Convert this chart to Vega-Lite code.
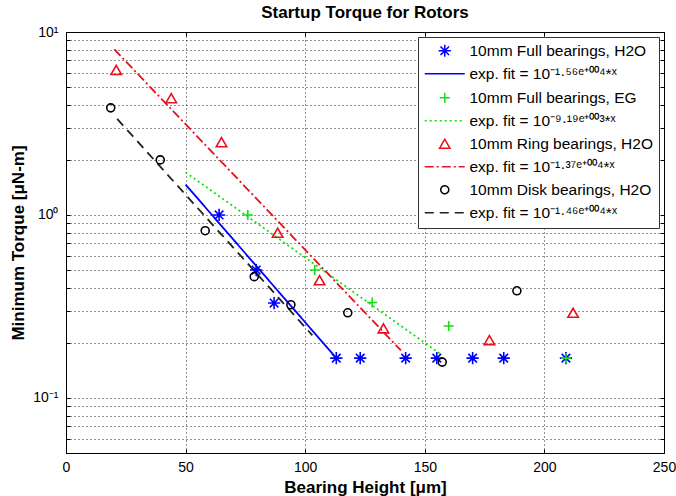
{
  "$schema": "https://vega.github.io/schema/vega-lite/v6.json",
  "autosize": "none",
  "width": 598,
  "height": 421,
  "padding": {"left": 66, "top": 32, "right": 12, "bottom": 43},
  "background": "white",
  "config": {
    "font": "Liberation Sans",
    "view": {"stroke": "black", "strokeWidth": 1},
    "axis": {
      "domainColor": "black",
      "tickColor": "black",
      "labelColor": "black",
      "titleColor": "black",
      "labelFont": "Liberation Sans",
      "titleFont": "Liberation Sans",
      "labelFontSize": 14,
      "titleFontSize": 17,
      "titleFontWeight": "bold",
      "gridColor": "black",
      "gridDash": [1, 3],
      "gridOpacity": 0.85,
      "gridWidth": 1
    }
  },
  "title": {
    "text": "Startup Torque for Rotors",
    "fontSize": 17,
    "fontWeight": "bold",
    "color": "black",
    "offset": 3,
    "anchor": "middle"
  },
  "datasets": {
    "points": [
      {"series": "10mm Full bearings, H2O", "x": 64, "y": 1.0},
      {"series": "10mm Full bearings, H2O", "x": 79.5, "y": 0.5},
      {"series": "10mm Full bearings, H2O", "x": 87, "y": 0.33},
      {"series": "10mm Full bearings, H2O", "x": 113, "y": 0.165},
      {"series": "10mm Full bearings, H2O", "x": 123, "y": 0.165},
      {"series": "10mm Full bearings, H2O", "x": 142, "y": 0.165},
      {"series": "10mm Full bearings, H2O", "x": 155, "y": 0.165},
      {"series": "10mm Full bearings, H2O", "x": 170, "y": 0.165},
      {"series": "10mm Full bearings, H2O", "x": 183, "y": 0.165},
      {"series": "10mm Full bearings, H2O", "x": 209, "y": 0.165},
      {"series": "10mm Full bearings, EG", "x": 76, "y": 1.0},
      {"series": "10mm Full bearings, EG", "x": 104, "y": 0.5},
      {"series": "10mm Full bearings, EG", "x": 128, "y": 0.332},
      {"series": "10mm Full bearings, EG", "x": 160, "y": 0.247},
      {"series": "10mm Full bearings, EG", "x": 209, "y": 0.165},
      {"series": "10mm Ring bearings, H2O", "x": 21, "y": 6.2},
      {"series": "10mm Ring bearings, H2O", "x": 44, "y": 4.35},
      {"series": "10mm Ring bearings, H2O", "x": 65, "y": 2.5},
      {"series": "10mm Ring bearings, H2O", "x": 88.5, "y": 0.8},
      {"series": "10mm Ring bearings, H2O", "x": 106, "y": 0.44},
      {"series": "10mm Ring bearings, H2O", "x": 132.7, "y": 0.24},
      {"series": "10mm Ring bearings, H2O", "x": 177, "y": 0.207},
      {"series": "10mm Ring bearings, H2O", "x": 212, "y": 0.292},
      {"series": "10mm Disk bearings, H2O", "x": 18.7, "y": 3.85},
      {"series": "10mm Disk bearings, H2O", "x": 39.4, "y": 2.0},
      {"series": "10mm Disk bearings, H2O", "x": 58.2, "y": 0.82},
      {"series": "10mm Disk bearings, H2O", "x": 78.7, "y": 0.46},
      {"series": "10mm Disk bearings, H2O", "x": 94, "y": 0.323},
      {"series": "10mm Disk bearings, H2O", "x": 117.8, "y": 0.292},
      {"series": "10mm Disk bearings, H2O", "x": 157.3, "y": 0.157},
      {"series": "10mm Disk bearings, H2O", "x": 188.5, "y": 0.385}
    ],
    "fits": [
      {"series": "exp. fit = 10⁻¹·⁵⁶ᵉ⁺⁰⁰⁴*ˣ", "x": 50, "y": 1.466},
      {"series": "exp. fit = 10⁻¹·⁵⁶ᵉ⁺⁰⁰⁴*ˣ", "x": 113, "y": 0.165},
      {"series": "exp. fit = 10⁻⁹·¹⁹ᵉ⁺⁰⁰³*ˣ", "x": 50, "y": 1.71},
      {"series": "exp. fit = 10⁻⁹·¹⁹ᵉ⁺⁰⁰³*ˣ", "x": 157, "y": 0.172},
      {"series": "exp. fit = 10⁻¹·³⁷ᵉ⁺⁰⁰⁴*ˣ", "x": 20.2, "y": 8.04},
      {"series": "exp. fit = 10⁻¹·³⁷ᵉ⁺⁰⁰⁴*ˣ", "x": 140, "y": 0.182},
      {"series": "exp. fit = 10⁻¹·⁴⁶ᵉ⁺⁰⁰⁴*ˣ", "x": 21.4, "y": 3.35},
      {"series": "exp. fit = 10⁻¹·⁴⁶ᵉ⁺⁰⁰⁴*ˣ", "x": 103, "y": 0.22}
    ]
  },
  "resolve": {"axis": {"x": "independent", "y": "independent"}},
  "layer": [
    {
      "data": {"name": "fits"},
      "mark": {"type": "line", "strokeWidth": 1.8},
      "encoding": {
        "x": {
          "field": "x", "type": "quantitative",
          "scale": {"domain": [0, 250], "nice": false, "zero": false},
          "axis": {
            "title": "Bearing Height [μm]",
            "values": [0, 50, 100, 150, 200, 250],
            "grid": true,
            "tickSize": -4,
            "labelPadding": 11,
            "titlePadding": 5,
            "labelFlush": false
          }
        },
        "y": {
          "field": "y", "type": "quantitative",
          "scale": {"type": "log", "domain": [0.05, 10], "nice": false},
          "axis": {
            "title": "Minimum Torque [μN-m]",
            "values": [0.06, 0.07, 0.08, 0.09, 0.1, 0.2, 0.3, 0.4, 0.5, 0.6, 0.7, 0.8, 0.9, 1, 2, 3, 4, 5, 6, 7, 8, 9, 10],
            "labelExpr": "datum.value == 10 ? '10¹' : datum.value == 1 ? '10⁰' : datum.value == 0.1 ? '10⁻¹' : ''",
            "grid": true,
            "tickSize": -4,
            "labelPadding": 12,
            "titlePadding": 5,
            "labelFlush": false
          }
        },
        "color": {
          "field": "series", "type": "nominal",
          "scale": {
            "domain": [
              "10mm Full bearings, H2O", "exp. fit = 10⁻¹·⁵⁶ᵉ⁺⁰⁰⁴*ˣ",
              "10mm Full bearings, EG", "exp. fit = 10⁻⁹·¹⁹ᵉ⁺⁰⁰³*ˣ",
              "10mm Ring bearings, H2O", "exp. fit = 10⁻¹·³⁷ᵉ⁺⁰⁰⁴*ˣ",
              "10mm Disk bearings, H2O", "exp. fit = 10⁻¹·⁴⁶ᵉ⁺⁰⁰⁴*ˣ"
            ],
            "range": ["#0000ff", "#0000ff", "#11e011", "#11e011", "#e8101a", "#e8101a", "#000000", "#222222"]
          },
          "legend": {
            "title": null,
            "orient": "top-right",
            "offset": 5,
            "padding": 6,
            "strokeColor": "#333333",
            "fillColor": "white",
            "labelFont": "Liberation Sans",
            "labelFontSize": 15.5,
            "labelColor": "black",
            "labelLimit": 300,
            "labelOffset": 17,
            "symbolOffset": 13,
            "rowPadding": 6,
            "symbolStrokeWidth": 1.5,
            "symbolFillColor": "transparent"
          }
        },
        "strokeDash": {
          "field": "series", "type": "nominal",
          "scale": {
            "domain": [
              "10mm Full bearings, H2O", "exp. fit = 10⁻¹·⁵⁶ᵉ⁺⁰⁰⁴*ˣ",
              "10mm Full bearings, EG", "exp. fit = 10⁻⁹·¹⁹ᵉ⁺⁰⁰³*ˣ",
              "10mm Ring bearings, H2O", "exp. fit = 10⁻¹·³⁷ᵉ⁺⁰⁰⁴*ˣ",
              "10mm Disk bearings, H2O", "exp. fit = 10⁻¹·⁴⁶ᵉ⁺⁰⁰⁴*ˣ"
            ],
            "range": [[1, 0], [1, 0], [1, 0], [2, 3], [1, 0], [9, 3, 2, 3], [1, 0], [9, 6]]
          }
        }
      }
    },
    {
      "data": {"name": "points"},
      "mark": {"type": "point", "filled": false, "strokeWidth": 1.6, "opacity": 1},
      "encoding": {
        "x": {"field": "x", "type": "quantitative", "axis": null},
        "y": {"field": "y", "type": "quantitative", "axis": null},
        "color": {"field": "series", "type": "nominal"},
        "shape": {
          "field": "series", "type": "nominal",
          "scale": {
            "domain": [
              "10mm Full bearings, H2O", "exp. fit = 10⁻¹·⁵⁶ᵉ⁺⁰⁰⁴*ˣ",
              "10mm Full bearings, EG", "exp. fit = 10⁻⁹·¹⁹ᵉ⁺⁰⁰³*ˣ",
              "10mm Ring bearings, H2O", "exp. fit = 10⁻¹·³⁷ᵉ⁺⁰⁰⁴*ˣ",
              "10mm Disk bearings, H2O", "exp. fit = 10⁻¹·⁴⁶ᵉ⁺⁰⁰⁴*ˣ"
            ],
            "range": [
              "M-1,0L1,0M0,-1L0,1M-0.7,-0.7L0.7,0.7M-0.7,0.7L0.7,-0.7", "M-5,0L5,0",
              "M-1,0L1,0M0,-1L0,1", "M-5,0L5,0",
              "triangle-up", "M-5,0L5,0",
              "circle", "M-5,0L5,0"
            ]
          }
        },
        "size": {
          "field": "series", "type": "nominal",
          "scale": {
            "type": "ordinal",
            "domain": [
              "10mm Full bearings, H2O", "exp. fit = 10⁻¹·⁵⁶ᵉ⁺⁰⁰⁴*ˣ",
              "10mm Full bearings, EG", "exp. fit = 10⁻⁹·¹⁹ᵉ⁺⁰⁰³*ˣ",
              "10mm Ring bearings, H2O", "exp. fit = 10⁻¹·³⁷ᵉ⁺⁰⁰⁴*ˣ",
              "10mm Disk bearings, H2O", "exp. fit = 10⁻¹·⁴⁶ᵉ⁺⁰⁰⁴*ˣ"
            ],
            "range": [150, 64, 100, 64, 110, 64, 64, 64]
          }
        }
      }
    },
    {
      "data": {"name": "fits"},
      "mark": {"type": "line", "opacity": 0},
      "encoding": {
        "x": {
          "field": "x", "type": "quantitative",
          "axis": {"orient": "top", "values": [0, 50, 100, 150, 200, 250], "labels": false, "title": null, "grid": false, "tickSize": -4, "domain": false}
        },
        "y": {
          "field": "y", "type": "quantitative",
          "axis": {"orient": "right", "values": [0.06, 0.07, 0.08, 0.09, 0.1, 0.2, 0.3, 0.4, 0.5, 0.6, 0.7, 0.8, 0.9, 1, 2, 3, 4, 5, 6, 7, 8, 9, 10], "labels": false, "title": null, "grid": false, "tickSize": -4, "domain": false}
        },
        "detail": {"field": "series", "type": "nominal"}
      }
    }
  ]
}
